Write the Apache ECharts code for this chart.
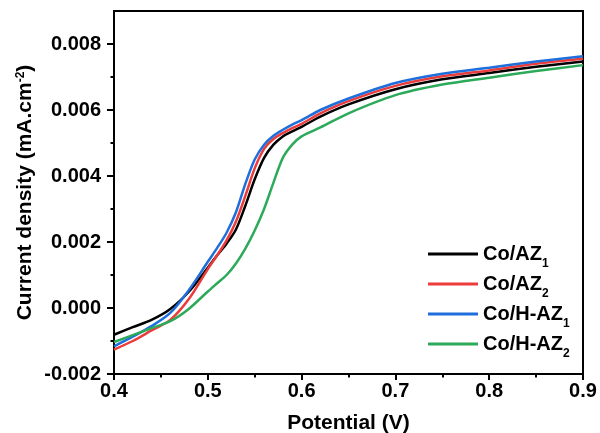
<!DOCTYPE html>
<html>
<head>
<meta charset="utf-8">
<script src="https://cdn.jsdelivr.net/npm/echarts@6/dist/echarts.min.js"></script>
<style>
  html, body { margin: 0; padding: 0; background: #fff; }
  #main { width: 600px; height: 433px; }
</style>
</head>
<body>
<div id="main"></div>
<script>
// potential (V)
const potential = [0.40, 0.42, 0.44, 0.46, 0.48, 0.50, 0.51, 0.52, 0.53, 0.54, 0.55, 0.56,
  0.57, 0.58, 0.59, 0.60, 0.62, 0.65, 0.70, 0.75, 0.80, 0.85, 0.90]

// current density (mA.cm-2)
const coAZ1 = [-0.00081, -0.00058, -0.00036, -0.00003, 0.0005, 0.00122, 0.0016, 0.00195, 0.00238,
  0.0031, 0.0039, 0.00455, 0.00495, 0.0052, 0.00535, 0.00549, 0.0058, 0.00617, 0.00663, 0.00693,
  0.00712, 0.00731, 0.00747]
const coAZ2 = [-0.00126, -0.001, -0.00068, -0.00036, 0.00028, 0.00118, 0.0016, 0.00205, 0.00262,
  0.0034, 0.00423, 0.00482, 0.00512, 0.0053, 0.00545, 0.00558, 0.0059, 0.00627, 0.00673, 0.00702,
  0.0072, 0.0074, 0.00755]
const coHAZ1 = [-0.00116, -0.00087, -0.00055, -0.00015, 0.00055, 0.0014, 0.00182, 0.00228, 0.0029,
  0.00376, 0.0045, 0.00495, 0.00522, 0.0054, 0.00556, 0.00569, 0.006, 0.00635, 0.00682, 0.0071,
  0.00728, 0.00747, 0.00763]
const coHAZ2 = [-0.00103, -0.00082, -0.00061, -0.0004, -0.00002, 0.0005, 0.00075, 0.001, 0.00135,
  0.0018, 0.00235, 0.003, 0.0038, 0.00455, 0.00495, 0.0052, 0.00547, 0.0059, 0.00645, 0.00677,
  0.00698, 0.00718, 0.00736]

const names = ['Co/AZ1', 'Co/AZ2', 'Co/H-AZ1', 'Co/H-AZ2']
const colors = ['#000000', '#ec3b3b', '#1e6edc', '#2caa5a']
const yTicks = [-0.002, 0, 0.002, 0.004, 0.006, 0.008]
const yMinorTicks = [-0.001, 0.001, 0.003, 0.005, 0.007]

const font = 'Liberation Sans'
const pair = ys => potential.map((x, i) => [x, ys[i]])

var myChart = echarts.init(document.getElementById('main'))

var option = {
  animation: false,
  textStyle: { fontFamily: font },
  grid: {
    left: 114, right: 17, top: 11, bottom: 59,
    outerBoundsMode: 'none',
    show: true, borderColor: '#000', borderWidth: 2
  },
  legend: {
    orient: 'vertical',
    left: 428,
    top: 244,
    padding: 0,
    itemWidth: 50,
    itemHeight: 3,
    itemGap: 4,
    icon: 'rect',
    data: names,
    formatter: n => n.replace(/^(.*?)(\d)$/, '{m|$1}{sub|$2}'),
    textStyle: {
      fontFamily: font, fontSize: 20, fontWeight: 'bold', color: '#000',
      rich: {
        m: { fontFamily: font, fontSize: 20, fontWeight: 'bold', lineHeight: 32 },
        sub: { fontFamily: font, fontSize: 12, fontWeight: 'bold', lineHeight: 12,
          verticalAlign: 'bottom' }
      }
    }
  },
  xAxis: {
    type: 'value',
    min: 0.4, max: 0.9, interval: 0.1,
    name: 'Potential (V)',
    nameLocation: 'middle',
    nameGap: 39,
    nameTextStyle: { fontFamily: font, fontSize: 21, fontWeight: 'bold', color: '#000' },
    axisLine: { onZero: false, lineStyle: { color: '#000', width: 2 } },
    axisTick: { length: 6, lineStyle: { width: 2 } },
    minorTick: { show: true, splitNumber: 2, length: 3.5, lineStyle: { color: '#000', width: 2 } },
    splitLine: { show: false },
    axisLabel: {
      margin: 7, fontFamily: font, fontSize: 20, fontWeight: 'bold', color: '#000',
      formatter: v => v.toFixed(1)
    }
  },
  yAxis: [{
    type: 'value',
    min: -0.002, max: 0.009,
    name: 'Current density (mA.cm{sup|-2})',
    nameLocation: 'middle',
    nameGap: 78,
    nameMoveOverlap: false,
    nameTextStyle: {
      fontFamily: font, fontSize: 21, fontWeight: 'bold', color: '#000',
      rich: {
        sup: { fontFamily: font, fontSize: 12, fontWeight: 'bold', lineHeight: 12,
          padding: [0, 0, 12, 0], verticalAlign: 'top' }
      }
    },
    axisLine: { show: true, lineStyle: { color: '#000', width: 2 } },
    axisTick: { show: true, length: 7, customValues: yTicks, lineStyle: { width: 2 } },
    splitLine: { show: false },
    axisLabel: {
      margin: 13, fontFamily: font, fontSize: 20, fontWeight: 'bold', color: '#000',
      customValues: yTicks,
      formatter: v => v.toFixed(3)
    }
  }, {
    // minor ticks only
    type: 'value',
    position: 'left',
    min: -0.002, max: 0.009,
    axisLine: { show: false },
    axisTick: { show: true, length: 3.5, customValues: yMinorTicks, lineStyle: { color: '#000', width: 2 } },
    axisLabel: { show: false },
    splitLine: { show: false }
  }],
  series: [coAZ1, coAZ2, coHAZ1, coHAZ2].map((ys, i) => ({
    name: names[i],
    type: 'line',
    data: pair(ys),
    smooth: 0.3,
    symbol: 'none',
    color: colors[i],
    lineStyle: { width: 2.5, color: colors[i] }
  }))
}

myChart.setOption(option)
</script>
</body>
</html>
